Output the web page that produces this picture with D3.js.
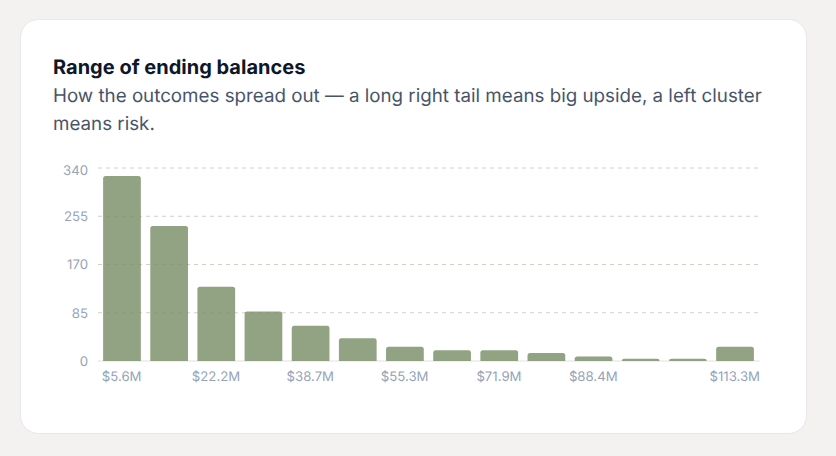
<!DOCTYPE html>
<html><head><meta charset="utf-8">
<script src="https://cdn.jsdelivr.net/npm/d3@7"></script>
<style>
html,body{margin:0;padding:0;width:836px;height:456px;background:#f3f2f0;overflow:hidden}
svg{display:block;font-family:Inter,sans-serif;text-rendering:geometricPrecision}
</style></head><body><svg id="c" width="836" height="456"></svg>
<script>
const categories=["$5.6M","$13.9M","$22.2M","$30.4M","$38.7M","$47.0M","$55.3M","$63.6M","$71.9M","$80.1M","$88.4M","$96.7M","$105.0M","$113.3M"];
const counts=[326,238,131,87,62,40,25,19,19,14,8,4,4,25];
const shownLabels=["$5.6M","$22.2M","$38.7M","$55.3M","$71.9M","$88.4M","$113.3M"];
const yTicks=[0,85,170,255,340];
const titleText="Range of ending balances";
const subtitleLines=["How the outcomes spread out — a long right tail means big upside, a left cluster","means risk."];

const svg=d3.select("#c");
svg.append("rect").attr("x",20.5).attr("y",19.5).attr("width",786).attr("height",414).attr("rx",18)
  .attr("fill","#fff").attr("stroke","#e5e7eb");
svg.append("text").attr("x",53).attr("y",74).attr("font-size",20).attr("font-weight",700).attr("fill","#0f172a").text(titleText);
svg.selectAll("text.sub").data(subtitleLines).join("text").attr("class","sub")
  .attr("x",53).attr("y",(d,i)=>102+i*28).attr("font-size",18.76).attr("fill","#475569").text(d=>d);

const x=d3.scaleBand().domain(categories).range([98.4,758.6]).paddingInner(0.2).paddingOuter(0.1);
const y=d3.scaleLinear().domain([0,340]).range([361,168]);

const yAxis=d3.axisLeft(y).tickValues(yTicks).tickSize(-662).tickPadding(10).offset(0);
const gy=svg.append("g").attr("transform","translate(98,0)").call(yAxis);
gy.select(".domain").remove();
gy.selectAll(".tick line").attr("stroke","#d6cfc4").attr("stroke-opacity",d=>d===0?0:1).attr("stroke-dasharray","4 4");
gy.selectAll(".tick text").attr("fill","#94a3b8").attr("font-size",13.2).attr("font-family","Inter,sans-serif").attr("dy",d=>d===340?"0.52em":"0.36em");

const xAxis=d3.axisBottom(x).tickSize(0).tickPadding(11).tickFormat(d=>shownLabels.includes(d)?d:"");
const gx=svg.append("g").attr("transform","translate(-0.3,361)").call(xAxis);
gx.select(".domain").attr("d","M98,0H760").attr("stroke","#e5e0da");
gx.selectAll(".tick text").attr("fill","#94a3b8").attr("font-size",13.2).attr("font-family","Inter,sans-serif");

const barPath=(d)=>{
  const x0=x(d.c),w=x.bandwidth(),t=y(d.v),b=y(0),r=Math.min(2.5,b-t);
  const p=d3.path();
  p.moveTo(x0,b);p.lineTo(x0,t+r);p.quadraticCurveTo(x0,t,x0+r,t);
  p.lineTo(x0+w-r,t);p.quadraticCurveTo(x0+w,t,x0+w,t+r);p.lineTo(x0+w,b);p.closePath();
  return p.toString();
};
svg.append("g").selectAll("path").data(categories.map((c,i)=>({c,v:counts[i]}))).join("path")
  .attr("d",barPath).attr("fill","#7e936c").attr("fill-opacity",0.85);
</script></body></html>
